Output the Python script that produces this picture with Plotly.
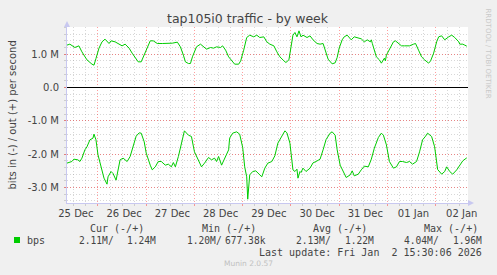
import pandas as pd
import plotly.graph_objects as go

# ---------------- data ----------------
BASE = "2025-12-25 00:00"   # time origin for the hour offsets below

# outgoing traffic (+), hours after BASE, Mbit/s
out_hours = [8.5, 10, 12.5, 14.5, 16, 18.5, 21, 22, 23, 24.5, 26, 27.5, 29.5, 30.5, 32.5, 35, 36, 37.5,
             39.5, 41, 42.5, 44, 45.5, 46.5, 48.5, 50, 51.5, 53.5, 56, 59, 61, 63.5, 65, 66.5, 67.5, 69,
             70, 71, 72, 73, 75, 76.5, 78, 80, 81.5, 83, 85, 86, 87.5, 89, 90.5, 92, 94, 95, 96.5, 98,
             99.5, 101.5, 103, 104.5, 106.5, 108, 109.5, 111.5, 113, 114.5, 116.5, 117.5, 119, 120, 121,
             122, 123, 124, 125, 126, 128, 129.5, 131, 133, 134.5, 136, 136.5, 137, 138.5, 140.5, 142,
             143, 144, 145.5, 146.5, 148, 149, 150, 151.5, 153, 155, 156.5, 158, 159.5, 160, 160.5,
             161.5, 162.5, 164, 165, 166.5, 167, 167.5, 169.5, 171, 172, 173.5, 175, 176.5, 179, 181,
             182, 183.5, 185, 186.5, 188.5, 189.5, 191, 192.5, 193.5, 195, 196.5, 198.5, 200, 201.5,
             203.5, 204, 205.5, 206.5, 207.5]
out_mbps = [1.27, 1.30, 1.20, 1.25, 1.07, 0.83, 0.70, 0.67, 0.87, 1.18, 1.37, 1.45, 1.32, 1.40, 1.37, 1.30,
            1.25, 1.30, 1.18, 1.03, 0.88, 0.77, 0.77, 0.92, 1.18, 1.40, 1.40, 1.32, 1.32, 1.32, 1.33,
            1.36, 1.22, 0.97, 0.77, 0.72, 0.72, 0.92, 1.05, 1.22, 1.30, 1.22, 1.15, 1.20, 1.18, 1.22,
            1.20, 1.25, 1.12, 0.92, 0.80, 0.70, 0.70, 0.80, 1.12, 1.50, 1.57, 1.52, 1.57, 1.50, 1.52,
            1.37, 1.30, 1.25, 1.07, 0.92, 0.80, 0.75, 0.83, 1.22, 1.57, 1.65, 1.52, 1.70, 1.52, 1.57,
            1.50, 1.55, 1.43, 1.32, 1.30, 1.32, 1.22, 1.08, 0.85, 0.71, 0.74, 0.90, 1.18, 1.43, 1.52,
            1.57, 1.50, 1.43, 1.52, 1.50, 1.46, 1.37, 1.43, 1.37, 1.43, 1.32, 1.12, 0.92, 0.83, 0.73,
            0.88, 0.80, 0.97, 1.22, 1.37, 1.40, 1.32, 1.25, 1.25, 1.25, 1.30, 1.32, 1.12, 0.92, 0.83,
            0.73, 0.80, 1.03, 1.37, 1.52, 1.55, 1.43, 1.52, 1.57, 1.50, 1.37, 1.30, 1.30, 1.27, 1.24]

# incoming traffic (-), hours after BASE, Mbit/s drawn downward
in_hours = [8.5, 11, 12, 14, 15, 16, 17.5, 18.5, 20, 21.5, 22, 23, 24, 25.5, 27, 28.5, 29, 30.5, 31.5, 33,
            34, 35, 36.5, 38.5, 40, 41.5, 43, 44.5, 45.5, 47, 48, 50, 51, 52.5, 54, 55.5, 57.5, 59, 60.5,
            61.5, 62.5, 64, 65.5, 67, 69, 70.5, 72, 74, 75.5, 77, 79, 80.5, 82, 83, 84, 85.5, 87, 89,
            89.5, 91, 93, 94.5, 96, 97, 98, 98.5, 99.5, 101, 102.5, 104, 105.5, 107, 108.5, 110.5, 112,
            113.5, 115.5, 117, 118, 119.5, 121, 122, 123, 123.5, 124.5, 125, 126, 127.5, 129.5, 131,
            132.5, 134.5, 136, 137.5, 139.5, 140.5, 142, 143, 144.5, 146, 147.5, 149.5, 150.5, 151.5,
            153.5, 155, 156.5, 158.5, 160, 161.5, 163.5, 165, 166, 167.5, 169, 171, 172.5, 174, 175.5,
            177.5, 179, 180.5, 182.5, 184, 185.5, 187, 188, 190, 191.5, 193, 195, 196.5, 197.5, 199,
            200.5, 202.5, 204, 205.5, 207.5]
in_mbps = [-2.27, -2.22, -2.15, -2.17, -2.22, -2.12, -1.87, -1.78, -1.57, -1.52, -1.40, -1.57, -2.02,
           -2.42, -2.72, -2.90, -2.68, -2.52, -2.58, -2.78, -2.52, -2.17, -2.12, -2.22, -2.07, -1.78,
           -1.46, -1.36, -1.37, -1.63, -1.97, -2.33, -2.47, -2.38, -2.22, -2.22, -2.33, -2.30, -2.38,
           -2.25, -2.38, -2.07, -1.63, -1.30, -1.43, -1.47, -1.93, -2.17, -2.38, -2.27, -2.10, -2.17,
           -2.12, -2.22, -2.07, -2.33, -2.12, -1.87, -1.52, -1.37, -1.33, -1.40, -1.80, -2.38, -2.68,
           -3.35, -2.62, -2.52, -2.50, -2.60, -2.68, -2.42, -2.27, -2.22, -2.05, -1.67, -1.43, -1.30,
           -1.36, -1.67, -2.47, -2.52, -2.45, -2.72, -2.52, -2.55, -2.42, -2.52, -2.42, -2.26, -2.22,
           -2.15, -1.87, -1.56, -1.37, -1.33, -1.43, -1.87, -2.33, -2.52, -2.70, -2.62, -2.50, -2.65,
           -2.60, -2.47, -2.36, -2.38, -2.15, -1.82, -1.50, -1.37, -1.43, -1.72, -2.22, -2.42, -2.38,
           -2.22, -2.22, -2.25, -2.22, -2.30, -2.22, -1.93, -1.57, -1.46, -1.37, -1.47, -1.78, -2.46,
           -2.60, -2.52, -2.38, -2.52, -2.60, -2.47, -2.33, -2.20, -2.11]

label_days = ["2025-12-25", "2025-12-26", "2025-12-27", "2025-12-28", "2025-12-29",
              "2025-12-30", "2025-12-31", "2026-01-01", "2026-01-02"]
day_labels = ["25 Dec", "26 Dec", "27 Dec", "28 Dec", "29 Dec", "30 Dec", "31 Dec", "01 Jan", "02 Jan"]

y_tickvals = [-3, -2, -1, 0, 1]
y_ticktext = ["-3.0 M", "-2.0 M", "-1.0 M", "0.0", "1.0 M"]

stat_headers = ["Cur (-/+)", "Min (-/+)", "Avg (-/+)", "Max (-/+)"]
stat_in = ["2.11M/", "1.20M/", "2.13M/", "4.04M/"]
stat_out = ["1.24M", "677.38k", "1.22M", "1.96M"]
series_name = "bps"
last_update = "Last update: Fri Jan  2 15:30:06 2026"

# ---------------- figure ----------------
W, H = 497, 275
PL, PR, PT, PB = 67, 468, 27, 203
X_START, X_END = "2025-12-25 08:35", "2026-01-02 16:06"
Y_RANGE = [-3.465, 1.815]

GREEN = "#00CC00"
TEXT = "#444444"
AXIS = "#C8C8F0"
MGRID = "rgba(255,0,0,0.38)"
GRID = "rgba(140,140,140,0.35)"
FONT = "DejaVu Sans"
MONO = "DejaVu Sans Mono"


def fx(p):
    return (p - PL) / (PR - PL)


def fy(p):
    return (PB - p) / (PB - PT)


base = pd.Timestamp(BASE)
out_t = [base + pd.Timedelta(hours=h) for h in out_hours]
in_t = [base + pd.Timedelta(hours=h) for h in in_hours]
label_t = [pd.Timestamp(d) + pd.Timedelta(hours=13) for d in label_days]

fig = go.Figure()
fig.add_trace(go.Scatter(x=out_t, y=out_mbps, mode="lines", line=dict(color=GREEN, width=1),
                         hoverinfo="skip", showlegend=False))
fig.add_trace(go.Scatter(x=in_t, y=in_mbps, mode="lines", line=dict(color=GREEN, width=1),
                         hoverinfo="skip", showlegend=False, xaxis="x2"))

fig.update_layout(
    width=W, height=H,
    margin=dict(l=PL, r=W - PR, t=PT, b=H - PB, pad=0),
    paper_bgcolor="#F0F0F0", plot_bgcolor="#FFFFFF",
    font=dict(family=FONT, size=10, color=TEXT),
    showlegend=False,
    xaxis=dict(type="date", range=[X_START, X_END], tick0="2025-12-25 00:00", dtick=86400000,
               showgrid=True, gridcolor=MGRID, griddash="1px,2px", gridwidth=1,
               showticklabels=False, ticks="outside", ticklen=2, tickcolor=MGRID,
               showline=True, linecolor=AXIS, linewidth=1, zeroline=False,
               minor=dict(dtick=6 * 3600000, tick0="2025-12-25 00:00", showgrid=True,
                          gridcolor=GRID, griddash="1px,2px", gridwidth=1,
                          ticks="outside", ticklen=2, tickcolor=GRID)),
    xaxis2=dict(type="date", range=[X_START, X_END], overlaying="x", anchor="y", side="bottom",
                tickmode="array", tickvals=label_t, ticktext=day_labels, showgrid=False,
                ticks="", showline=False, zeroline=False, ticklabelstandoff=3,
                tickfont=dict(family=FONT, size=10, color=TEXT)),
    yaxis=dict(range=Y_RANGE, tickmode="array", tickvals=y_tickvals, ticktext=y_ticktext,
               showgrid=True, gridcolor=MGRID, griddash="1px,2px", gridwidth=1,
               zeroline=True, zerolinecolor="#000000", zerolinewidth=1,
               showline=True, linecolor=AXIS, linewidth=1,
               ticks="outside", ticklen=2, tickcolor=MGRID, ticklabelstandoff=3,
               tickfont=dict(family=FONT, size=10, color=TEXT),
               minor=dict(dtick=0.2, tick0=0, showgrid=True, gridcolor=GRID, griddash="1px,2px",
                          gridwidth=1, ticks="outside", ticklen=2, tickcolor=GRID)),
)


def label(text, x, y, xanchor="left", size=10, family=MONO, color=TEXT, angle=0):
    return dict(text=text, x=fx(x), y=fy(y), xref="paper", yref="paper", showarrow=False,
                xanchor=xanchor, yanchor="middle", borderpad=0, textangle=angle,
                font=dict(family=family, size=size, color=color))


ann = []
ann.append(label("tap105i0 traffic - by week", 248, 18, "center", 12.5, FONT))
ann.append(label("bits in (-) / out (+) per second", 11.5, 115, "center", 10, FONT, angle=-90))
ann.append(label("RRDTOOL / TOBI OETIKER", 487.5, 53, "center", 7, FONT, "#C8C8C8", angle=90))
head_x = [89, 201, 312, 423]
in_x = [78, 186, 295, 403]
out_x = [157, 267, 375, 483]
for i in range(4):
    ann.append(label(stat_headers[i], head_x[i], 228))
    ann.append(label(stat_in[i], in_x[i], 240, size=9.6))
    ann.append(label(stat_out[i], out_x[i], 240, "right", size=9.6))
ann.append(label(series_name, 26, 240))
ann.append(label(last_update.replace(" ", "\u00a0"), 483, 252, "right"))
ann.append(label("Munin 2.0.57", 248, 263.5, "center", 7.5, FONT, "#C0C0C0"))
fig.update_layout(annotations=ann)

shapes = []
shapes.append(dict(type="rect", xref="paper", yref="paper", x0=fx(14), x1=fx(20), y0=fy(243), y1=fy(237),
                   fillcolor=GREEN, line=dict(width=0)))
shapes.append(dict(type="path", xref="paper", yref="paper",
                   path=f"M {fx(64)} {fy(27)} L {fx(70)} {fy(27)} L {fx(67)} {fy(21)} Z",
                   fillcolor=AXIS, line=dict(width=0)))
shapes.append(dict(type="path", xref="paper", yref="paper",
                   path=f"M {fx(468)} {fy(200)} L {fx(468)} {fy(206)} L {fx(474)} {fy(203)} Z",
                   fillcolor=AXIS, line=dict(width=0)))
fig.update_layout(shapes=shapes)

fig.write_html("out.html")
